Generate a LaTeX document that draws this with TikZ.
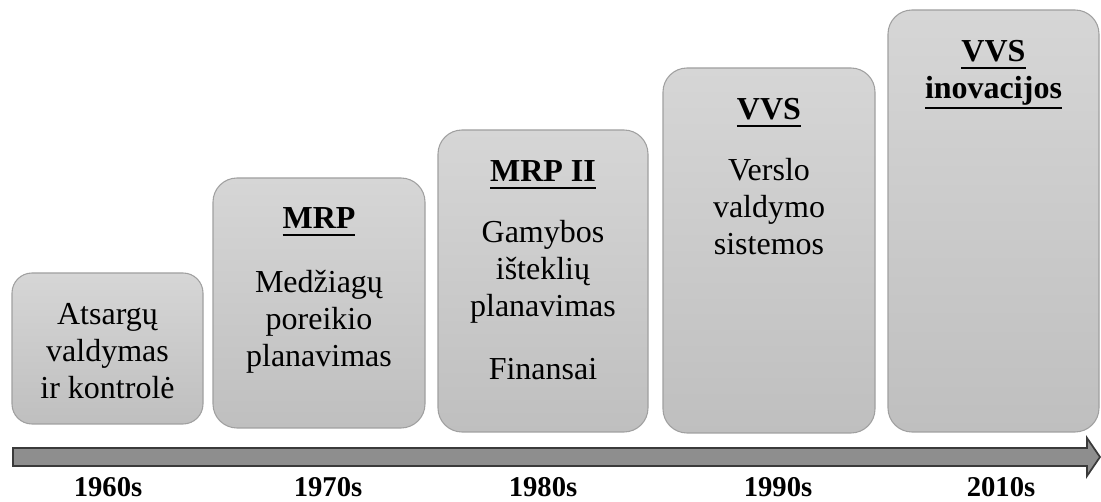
\documentclass[tikz,border=0pt]{standalone}
\usepackage{fontspec}
\setmainfont{Liberation Serif}

% one screen pixel
\newdimen\pxu \pxu=0.75pt

% heading underline: a rule at a fixed depth, pushed lower by descenders
\newcommand\hdul[1]{%
  \setbox0=\hbox{#1}%
  \dimen0=\dp0 \advance\dimen0 by 2.8pt
  \ifdim\dimen0<5.2pt \dimen0=5.2pt\fi
  \leavevmode\rlap{\rule[-\dimen0]{\wd0}{1.5pt}}\box0}

\definecolor{boxtop}{RGB}{214,214,214}
\definecolor{boxbot}{RGB}{191,191,191}
\definecolor{boxedge}{RGB}{160,160,160}
\definecolor{arrowfill}{RGB}{142,142,142}
\definecolor{arrowedge}{RGB}{58,58,58}

\begin{document}
\begin{tikzpicture}[x=0.75pt,y=-0.75pt,
  stagebox/.style={draw=boxedge, line width=0.8pt, top color=boxtop,
    bottom color=boxbot, rounded corners=24\pxu, inner sep=0pt},
  bodytext/.style={anchor=base, inner sep=0pt,
    font=\fontsize{24}{27.5}\selectfont},
  headtext/.style={anchor=base, inner sep=0pt,
    font=\bfseries\fontsize{24}{27.5}\selectfont},
  yeartext/.style={anchor=base, inner sep=0pt,
    font=\bfseries\fontsize{21.5}{25}\selectfont},
  timearrow/.style={draw=arrowedge, line width=1.3pt, fill=arrowfill,
    line join=miter}]

\useasboundingbox (0,0) rectangle (1101,502);

% stage boxes, growing from left to right
\node[stagebox, rounded corners=20\pxu, minimum width=191\pxu, minimum height=151\pxu] (b1) at (107.5,348.5) {};
\node[stagebox, minimum width=212\pxu, minimum height=250\pxu] (b2) at (319,303) {};
\node[stagebox, minimum width=210\pxu, minimum height=302\pxu] (b3) at (543,281) {};
\node[stagebox, minimum width=212\pxu, minimum height=365\pxu] (b4) at (769,250.5) {};
\node[stagebox, minimum width=211\pxu, minimum height=422\pxu] (b5) at (993.5,221) {};

% box texts
\node[bodytext] (t1) at (107.5,325)
  {\begin{tabular}[t]{@{}c@{}}Atsargų\\valdymas\\ir kontrolė\end{tabular}};

\node[headtext] (h2) at (319,229) {\hdul{MRP}};
\node[bodytext] (t2) at (319,293)
  {\begin{tabular}[t]{@{}c@{}}Medžiagų\\poreikio\\planavimas\end{tabular}};

\node[headtext] (h3) at (543,182) {\hdul{MRP II}};
\node[bodytext] (t3) at (543,243)
  {\begin{tabular}[t]{@{}c@{}}Gamybos\\išteklių\\planavimas\\[19.7pt]Finansai\end{tabular}};

\node[headtext] (h4) at (769,120) {\hdul{VVS}};
\node[bodytext] (t4) at (769,181)
  {\begin{tabular}[t]{@{}c@{}}Verslo\\valdymo\\sistemos\end{tabular}};

\node[headtext] (h5) at (993.5,62)
  {\begin{tabular}[t]{@{}c@{}}\hdul{VVS}\\\hdul{inovacijos}\end{tabular}};

% time axis
\draw[timearrow] (13,448) -- (1087,448) -- (1087,438) -- (1100,457)
  -- (1087,476) -- (1087,466) -- (13,466) -- cycle;

% decades
\node[yeartext] (y1) at (108,497) {1960s};
\node[yeartext] (y2) at (328,497) {1970s};
\node[yeartext] (y3) at (543,497) {1980s};
\node[yeartext] (y4) at (778,497) {1990s};
\node[yeartext] (y5) at (1001,497) {2010s};

\end{tikzpicture}
\end{document}
